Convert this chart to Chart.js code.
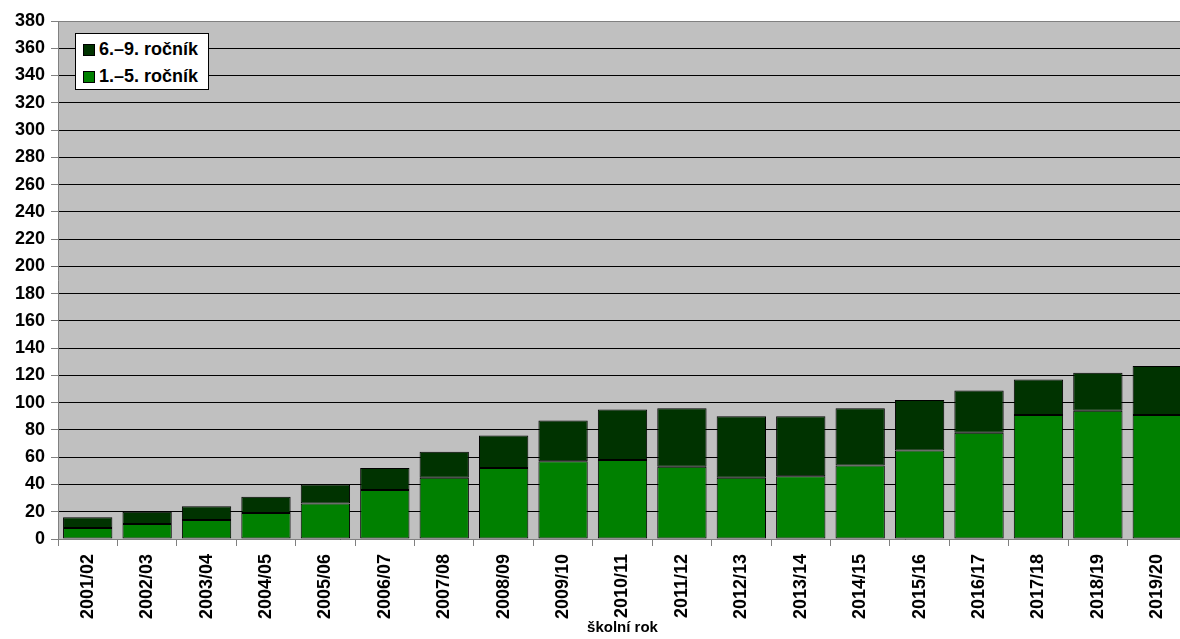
<!DOCTYPE html>
<html>
<head>
<meta charset="utf-8">
<script src="https://cdn.jsdelivr.net/npm/chart.js@4"></script>
<style>
  html, body { margin: 0; padding: 0; background: #fff; overflow: hidden; }
  #wrap { position: relative; width: 1187px; height: 639px; }
  #legend {
    position: absolute; left: 75px; top: 33px; width: 132px; height: 53px;
    border: 1px solid #000; background: #fff; padding-top: 2px; box-sizing: content-box;
    font: bold 18px "Liberation Sans", Arial, sans-serif; color: #000; white-space: nowrap;
  }
  .row { height: 27px; display: flex; align-items: center; }
  .sw { width: 10px; height: 10px; border: 1px solid #000; margin-left: 7px; margin-right: 4px; flex: none; }
</style>
</head>
<body>
<div id="wrap">
  <canvas id="c"></canvas>
  <div id="legend"></div>
</div>
<script>
const categories = ['2001/02','2002/03','2003/04','2004/05','2005/06','2006/07','2007/08','2008/09','2009/10','2010/11','2011/12','2012/13','2013/14','2014/15','2015/16','2016/17','2017/18','2018/19','2019/20'];
const grades1to5 = [8, 11, 14, 19, 26, 36, 45, 52, 57, 58, 53, 45, 46, 54, 65, 78, 91, 94, 91];
const grades6to9 = [8, 9, 10, 12, 14, 16, 19, 24, 30, 37, 43, 45, 44, 42, 37, 31, 26, 28, 36];
const yTicks = [0,20,40,60,80,100,120,140,160,180,200,220,240,260,280,300,320,340,360,380];
const seriesLabels = ['1.–5. ročník', '6.–9. ročník'];
const seriesColors = ['#008000', '#003300'];
const xTitle = 'školní rok';

const font = '"Liberation Sans", Arial, sans-serif';

const bgPlugin = {
  id: 'plotBg',
  beforeDraw(chart) {
    const {ctx, chartArea: a} = chart;
    ctx.save();
    ctx.fillStyle = '#C0C0C0';
    ctx.fillRect(a.left, a.top, a.right - a.left, a.bottom - a.top);
    ctx.restore();
  }
};

const chart = new Chart(document.getElementById('c'), {
  type: 'bar',
  data: {
    labels: categories,
    datasets: [
      { label: seriesLabels[0], data: grades1to5, backgroundColor: seriesColors[0] },
      { label: seriesLabels[1], data: grades6to9, backgroundColor: seriesColors[1] }
    ]
  },
  options: {
    responsive: true,
    maintainAspectRatio: false,
    animation: false,
    layout: { padding: { top: 21, right: 0, left: 0, bottom: 0 } },
    datasets: {
      bar: {
        borderColor: '#000',
        borderWidth: 1,
        borderSkipped: false,
        barPercentage: 0.83,
        categoryPercentage: 1
      }
    },
    plugins: {
      legend: { display: false },
      tooltip: { enabled: false },
      title: { display: false }
    },
    scales: {
      x: {
        stacked: true,
        offset: true,
        afterFit(s) { s.height = 100; },
        grid: { drawOnChartArea: false, offset: true, tickLength: 7, tickColor: '#808080', color: '#808080' },
        border: { color: '#808080', width: 1 },
        ticks: {
          autoSkip: false, minRotation: 90, maxRotation: 90, padding: 8,
          color: '#000', font: { family: font, size: 18, weight: 'bold' }
        },
        title: {
          display: true, text: xTitle, color: '#000',
          font: { family: font, size: 15, weight: 'bold' },
          padding: { top: 0, bottom: 2 }
        }
      },
      y: {
        stacked: true,
        min: yTicks[0],
        max: yTicks[yTicks.length - 1],
        afterFit(s) { s.width = 58; },
        afterBuildTicks(s) { s.ticks = yTicks.map(v => ({ value: v })); },
        grid: {
          color: ctx => (ctx.tick && ctx.tick.value === yTicks[yTicks.length - 1]) ? '#808080' : '#000',
          lineWidth: 1, tickLength: 7, tickColor: '#808080'
        },
        border: { color: '#808080', width: 1 },
        ticks: {
          padding: 6, color: '#000',
          font: { family: font, size: 18, weight: 'bold' }
        }
      }
    }
  },
  plugins: [bgPlugin]
});

// HTML legend built from the datasets (top series listed first)
const legend = document.getElementById('legend');
chart.data.datasets.slice().reverse().forEach(ds => {
  const row = document.createElement('div');
  row.className = 'row';
  const sw = document.createElement('span');
  sw.className = 'sw';
  sw.style.background = ds.backgroundColor;
  const tx = document.createElement('span');
  tx.textContent = ds.label;
  row.appendChild(sw);
  row.appendChild(tx);
  legend.appendChild(row);
});
</script>
</body>
</html>
